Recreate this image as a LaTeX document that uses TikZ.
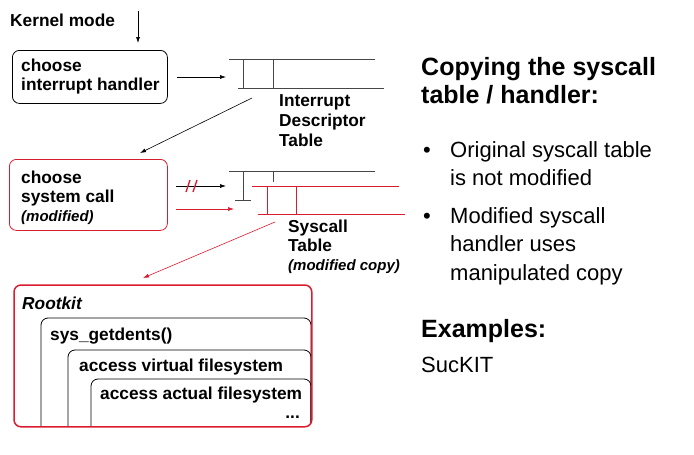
\documentclass[tikz,border=0pt]{standalone}
\usepackage{fontspec}
\setmainfont{Liberation Sans}
\usetikzlibrary{arrows.meta}
\definecolor{rk}{RGB}{218,28,48}
\definecolor{ln}{RGB}{70,70,70}
\tikzset{
  lbl/.style={font=\fontsize{17.3}{19.7}\selectfont\bfseries, inner sep=0, align=left},
  smallit/.style={font=\fontsize{15}{18}\selectfont\bfseries\itshape, inner sep=0},
  bigtxt/.style={font=\fontsize{22}{28.5}\selectfont, inner sep=0, align=left},
  bighead/.style={font=\fontsize{25}{28}\selectfont\bfseries, inner sep=0, align=left},
  rbox/.style={draw, rounded corners=7pt, line width=0.8pt, anchor=north west, inner sep=0},
  arr/.style={-{Latex[length=6pt,width=4pt]}, line width=0.6pt},
  tab/.style={line width=1pt, ln},
}
\begin{document}
\begin{tikzpicture}[x=1pt,y=-1pt]
\useasboundingbox (0,0) rectangle (694,455);
% Kernel mode
\node[lbl, anchor=base west] (km) at (10,27) {Kernel mode};
\coordinate (kmtop) at (138,11);
\coordinate (kmbot) at (138,43);
\draw[arr] (kmtop) -- (kmbot);
% box 1
\node[rbox, minimum width=155pt, minimum height=53pt] (b1) at (12,50) {};
\node[lbl, anchor=north west] (b1t) at (21,58.5) {choose\\interrupt handler};
% IDT
\coordinate (i1) at (229,59); \coordinate (i2) at (375,59);
\coordinate (i3) at (238,88); \coordinate (i4) at (384,88);
\coordinate (iv1) at (243,59); \coordinate (iv1b) at (243,88);
\coordinate (iv2) at (273,59); \coordinate (iv2b) at (273,88);
\draw[tab] (i1) -- (i2);
\draw[tab] (i3) -- (i4);
\draw[tab] (iv1) -- (iv1b);
\draw[tab] (iv2) -- (iv2b);
\coordinate (ia) at (226,77);
\draw[arr] (b1.east |- ia) ++(9,0) -- (ia);
\node[lbl, anchor=north west] (idt) at (279,94.6) {Interrupt\\Descriptor\\Table};
\coordinate (idtfrom) at (252,98);
\coordinate (idtto) at (140,153);
\draw[arr] (idtfrom) -- (idtto);
% box 2
\node[rbox, rk, minimum width=158pt, minimum height=71pt] (b2) at (9,159) {};
\node[lbl, anchor=north west] (b2t) at (21,170.4) {choose\\system call};
\node[smallit, anchor=base west] (b2m) at (21,221) {(modified)};
% arrows from box 2
\coordinate (s1a) at (176,186); \coordinate (s1b) at (226,186);
\draw[arr] (s1a) -- (s1b);
\coordinate (sl1a) at (186,192); \coordinate (sl1b) at (190,180);
\coordinate (sl2a) at (193,192); \coordinate (sl2b) at (197,180);
\draw[rk, line width=1.3pt] (sl1a) -- (sl1b);
\draw[rk, line width=1.3pt] (sl2a) -- (sl2b);
\coordinate (s2a) at (176,209); \coordinate (s2b) at (234,209);
\draw[arr, rk] (s2a) -- (s2b);
% original syscall table
\coordinate (o1) at (229,171); \coordinate (o2) at (375,171);
\coordinate (ov1) at (243,171); \coordinate (ov1b) at (243,200);
\coordinate (ot1) at (235,200); \coordinate (ot2) at (251,200);
\coordinate (ov2) at (273,171); \coordinate (ov2b) at (273,182);
\draw[tab] (o1) -- (o2);
\draw[tab] (ov1) -- (ov1b);
\draw[tab] (ot1) -- (ot2);
\draw[tab] (ov2) -- (ov2b);
% modified copy
\coordinate (m1) at (252,186); \coordinate (m2) at (399,186);
\coordinate (m3) at (258,214); \coordinate (m4) at (405,214);
\coordinate (mv1) at (267,186); \coordinate (mv1b) at (267,214);
\coordinate (mv2) at (296,186); \coordinate (mv2b) at (296,214);
\draw[tab, rk] (m1) -- (m2);
\draw[tab, rk] (m3) -- (m4);
\draw[tab, rk] (mv1) -- (mv1b);
\draw[tab, rk] (mv2) -- (mv2b);
\node[lbl, anchor=north west] (sct) at (288,219.4) {Syscall\\Table};
\node[smallit, anchor=base west] (sctm) at (288,270) {(modified copy)};
\coordinate (sfrom) at (275,222);
\coordinate (sto) at (143,278);
\draw[arr, rk] (sfrom) -- (sto);
% Rootkit
\node[rbox, minimum width=297pt, minimum height=141pt, draw=none] (rk) at (14,285) {};
\begin{scope}
\clip[rounded corners=7pt] (rk.north west) rectangle (rk.south east);
\draw[line width=0.8pt, rounded corners=7pt] (41,430) |- (311,318) -- (311,430);
\draw[line width=0.8pt, rounded corners=7pt] (68,430) |- (311,350) -- (311,430);
\draw[line width=0.8pt, rounded corners=7pt] (91,430) |- (311,379) -- (311,430);
\end{scope}
\draw[rk, line width=1.5pt, rounded corners=7pt] (rk.north west) rectangle (rk.south east);
\node[lbl, font=\fontsize{17.3}{20}\selectfont\bfseries\itshape, anchor=base west] (rkt) at (22,309) {Rootkit};
\node[lbl, anchor=base west] (sg) at (50,340) {sys\_getdents()};
\node[lbl, anchor=base west] (av) at (79,371) {access virtual filesystem};
\node[lbl, anchor=base west] (aa) at (100,399) {access actual filesystem};
\node[lbl, anchor=base east] (dots) at (300,418) {...};
% right text
\node[bighead, anchor=north west] (h1) at (421,56.8) {Copying the syscall\\table / handler:};
\node[bigtxt, anchor=base west] (bl1) at (423,157) {\textbullet};
\node[bigtxt, anchor=north west] (t1) at (450,141) {Original syscall table\\is not modified};
\node[bigtxt, anchor=base west] (bl2) at (423,223) {\textbullet};
\node[bigtxt, anchor=north west] (t2) at (450,207) {Modified syscall\\handler uses\\manipulated copy};
\node[bighead, anchor=base west] (ex) at (421,337) {Examples:};
\node[bigtxt, anchor=base west] (suc) at (421,372) {SucKIT};
\end{tikzpicture}
\end{document}
